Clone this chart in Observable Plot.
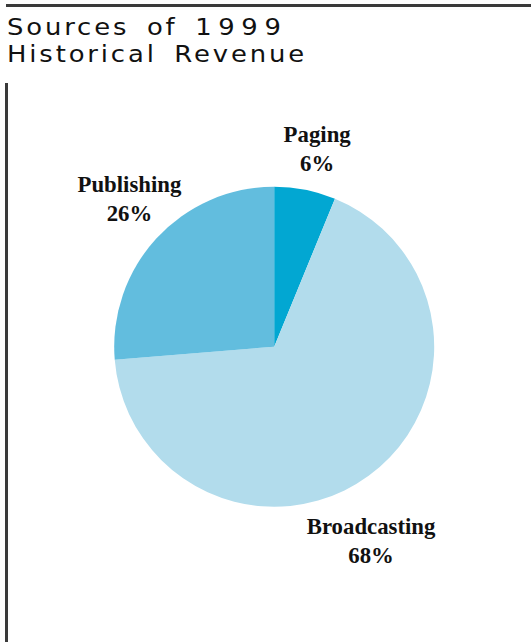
<!DOCTYPE html>
<html>
<head>
<meta charset="utf-8">
<script src="https://cdn.jsdelivr.net/npm/d3@7"></script>
<script src="https://cdn.jsdelivr.net/npm/@observablehq/plot@0.6"></script>
<style>
  html, body { margin: 0; padding: 0; background: #fff; }
  #page { position: relative; width: 531px; height: 642px; overflow: hidden; }
  #topline { position: absolute; left: 6px; right: 0; top: 4px; height: 2.5px; background: #3a3a3a; }
  #title { position: absolute; left: 7px; top: 14px; font-family: "DejaVu Sans", sans-serif; font-weight: normal;
           font-size: 23.5px; line-height: 26.5px; letter-spacing: 2.6px; word-spacing: 6px; color: #111; white-space: nowrap;
           transform: scaleX(1.1); transform-origin: 0 0; }
  #title .num { letter-spacing: 6px; }
  #leftline { position: absolute; left: 5px; top: 83px; bottom: 0; width: 2.5px; background: #3a3a3a; }
  #chart { position: absolute; left: 0; top: 80px; }
</style>
</head>
<body>
<div id="page">
  <div id="topline"></div>
  <div id="title">Sources of <span class="num">1999</span><br>Historical Revenue</div>
  <div id="leftline"></div>
  <div id="chart"></div>
</div>
<script>
// Data (clockwise from 12 o'clock)
const categories = ["Paging", "Broadcasting", "Publishing"];
const shares = [6.2, 67.5, 26.3];
const colors = ["#02a7d2", "#b2dcec", "#62bdde"];

// Label placement (angle shift in degrees and distance in radii from the slice mid-angle)
const labelTurn = [1.0, 9.9, 2.6];
const labelDist = [1.26, 1.36, 1.29];

const W = 531, H = 562;
const cxPx = 274.2, cyPx = 266.7, rPx = 160;

const pie = d3.pie().sort(null).value(d => d.value)(
  categories.map((c, i) => ({name: c, value: shares[i], color: colors[i]}))
);

const labels = pie.map((p, i) => {
  const a = (p.startAngle + p.endAngle) / 2 + labelTurn[i] * Math.PI / 180;
  return {
    x: labelDist[i] * Math.sin(a),
    y: labelDist[i] * Math.cos(a),
    text: `${p.data.name}\n${Math.round(p.data.value)}%`
  };
});

function pieMark(index, scales, values, dimensions) {
  const cx = scales.x(0), cy = scales.y(0);
  const r = scales.x(1) - scales.x(0);
  const arc = d3.arc().innerRadius(0).outerRadius(r);
  const g = d3.create("svg:g").attr("transform", `translate(${cx},${cy})`);
  g.selectAll("path").data(pie).join("path")
    .attr("d", arc)
    .attr("fill", d => d.data.color);
  return g.node();
}

// slightly condense the bold serif labels
function condense(index, scales, values, dimensions, context, next) {
  const g = next(index, scales, values, dimensions, context);
  d3.select(g).selectAll("text").each(function () {
    const t = this.getAttribute("transform") || "";
    this.setAttribute("transform", t + " scale(0.95,1)");
  });
  return g;
}

const chart = Plot.plot({
  width: W,
  height: H,
  margin: 0,
  x: {domain: [-cxPx / rPx, (W - cxPx) / rPx], axis: null},
  y: {domain: [-(H - cyPx) / rPx, cyPx / rPx], axis: null},
  marks: [
    pieMark,
    Plot.text(labels, {
      x: "x", y: "y", text: "text", dy: -3,
      fontFamily: "Liberation Serif", fontWeight: "bold", fontSize: 24,
      lineHeight: 1.2, fill: "#111", textAnchor: "middle",
      render: condense
    })
  ]
});
document.getElementById("chart").appendChild(chart);
</script>
</body>
</html>
